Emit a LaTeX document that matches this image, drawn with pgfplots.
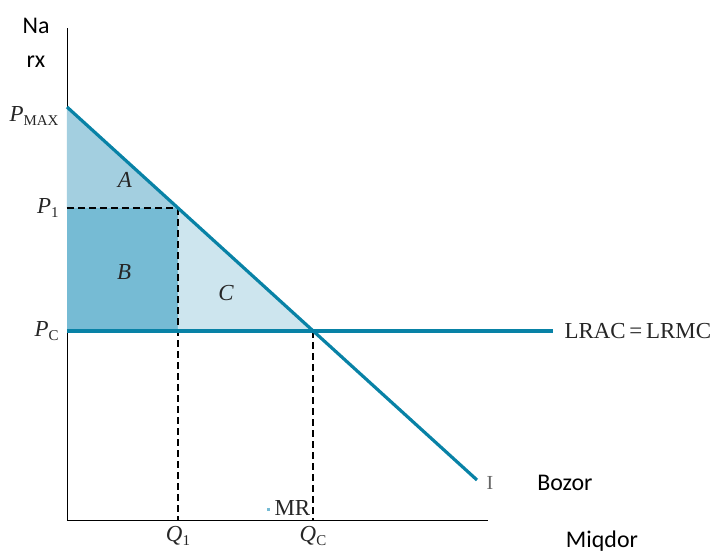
\documentclass[border=0pt]{standalone}
\usepackage{pgfplots}
\pgfplotsset{compat=1.18}
\usepackage{fontspec}
\setmainfont{Liberation Serif}
\newfontfamily\calfont{Carlito}
\definecolor{teal1}{RGB}{8,130,166}
\definecolor{fillA}{RGB}{163,207,224}
\definecolor{fillB}{RGB}{118,187,212}
\definecolor{fillC}{RGB}{205,229,238}
\newcommand{\sub}[1]{\raisebox{-0.35ex}{\fontsize{15}{15}\selectfont #1}}
\tikzset{lbl/.style={font=\fontsize{23}{26}\selectfont, text=black!85}, cal/.style={font=\calfont\fontsize{24}{26}\selectfont}}
\begin{document}
\begin{tikzpicture}
\begin{axis}[
  x=1bp, y=1bp,
  xmin=0, xmax=421, ymin=0, ymax=492,
  axis x line=bottom, axis y line=left,
  axis line style={black, line width=0.9bp, -},
  xtick=\empty, ytick=\empty,
  clip=false,
]
% areas
\addplot[fill=fillA, draw=none] coordinates {(0,413) (0,312) (111,312)} -- cycle;
\addplot[fill=fillB, draw=none] coordinates {(0,189) (0,312) (111,312) (111,189)} -- cycle;
\addplot[fill=fillC, draw=none] coordinates {(111,312) (111,189) (246,189)} -- cycle;
% dashed
\addplot[black, line width=1.6bp, dash pattern=on 7bp off 4bp] coordinates {(0,312) (111,312)};
\addplot[black, line width=1.6bp, dash pattern=on 7bp off 4bp] coordinates {(111,312) (111,0)};
\addplot[black, line width=1.6bp, dash pattern=on 7bp off 4bp] coordinates {(246,189) (246,0)};
% lines
\addplot[teal1, line width=3.2bp] coordinates {(0,189) (486,189)};
\addplot[teal1, line width=3.2bp] coordinates {(0,413) (410,40)};
\addplot[only marks, mark=square*, mark size=0.8bp, color=fillB] coordinates {(201,11)};
% labels
\node[lbl, anchor=east] at (axis cs:-5,404) {\textit{P}\sub{MAX}};
\node[lbl, anchor=east] at (axis cs:-5,312) {\textit{P}\sub{1}};
\node[lbl, anchor=east] at (axis cs:-5,189) {\textit{P}\sub{C}};
\node[lbl] at (axis cs:58,340) {\textit{A}};
\node[lbl] at (axis cs:57,248) {\textit{B}};
\node[lbl] at (axis cs:159,227) {\textit{C}};
\node[lbl, anchor=north, inner sep=0pt] at (axis cs:111,-6) {\textit{Q}\sub{1}};
\node[lbl, anchor=north, inner sep=0pt] at (axis cs:246,-6) {\textit{Q}\sub{C}};
\node[lbl, anchor=west] at (axis cs:204,12) {MR};
\node[lbl, anchor=west] at (axis cs:494,189) {LRAC\,=\,LRMC};
\node[anchor=west, font=\fontsize{20}{20}\selectfont, text=black!60] at (axis cs:416,37) {I};
\node[cal] at (axis cs:-31,494) {Na};
\node[cal] at (axis cs:-31,458) {rx};
\node[cal] at (axis cs:498,37) {Bozor};
\node[cal] at (axis cs:535,-21) {Miqdor};
\end{axis}
\pgfresetboundingbox
\useasboundingbox (-67bp,-33bp) rectangle (650bp,520bp);
\end{tikzpicture}
\end{document}
